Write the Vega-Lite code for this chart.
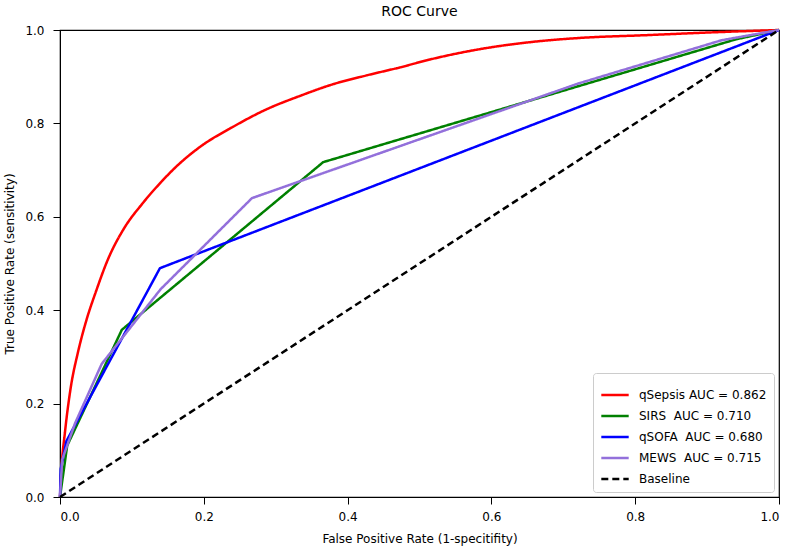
{
  "$schema": "https://vega.github.io/schema/vega-lite/v6.json",
  "width": 719,
  "height": 467,
  "autosize": {"type": "none"},
  "padding": {"left": 60, "top": 30, "right": 17, "bottom": 51},
  "background": "white",
  "title": {"text": "ROC Curve", "font": "DejaVu Sans", "fontSize": 14, "fontWeight": "normal", "color": "black", "offset": 5},
  "config": {
    "view": {"stroke": "black", "strokeWidth": 1.2},
    "font": "DejaVu Sans",
    "axis": {"grid": false, "domainColor": "black", "tickColor": "black", "labelColor": "black", "titleColor": "black", "labelFont": "DejaVu Sans", "titleFont": "DejaVu Sans", "labelFontSize": 12, "titleFontSize": 12, "titleFontWeight": "normal", "tickSize": 7, "labelPadding": 7}
  },
  "data": {"values": [
    {"model": "qSepsis AUC = 0.862", "fpr": 0.0, "tpr": 0.0},
    {"model": "qSepsis AUC = 0.862", "fpr": 0.002, "tpr": 0.06},
    {"model": "qSepsis AUC = 0.862", "fpr": 0.007, "tpr": 0.14},
    {"model": "qSepsis AUC = 0.862", "fpr": 0.015, "tpr": 0.235},
    {"model": "qSepsis AUC = 0.862", "fpr": 0.025, "tpr": 0.31},
    {"model": "qSepsis AUC = 0.862", "fpr": 0.037, "tpr": 0.38},
    {"model": "qSepsis AUC = 0.862", "fpr": 0.05, "tpr": 0.44},
    {"model": "qSepsis AUC = 0.862", "fpr": 0.067, "tpr": 0.51},
    {"model": "qSepsis AUC = 0.862", "fpr": 0.089, "tpr": 0.575},
    {"model": "qSepsis AUC = 0.862", "fpr": 0.115, "tpr": 0.629},
    {"model": "qSepsis AUC = 0.862", "fpr": 0.141, "tpr": 0.675},
    {"model": "qSepsis AUC = 0.862", "fpr": 0.16, "tpr": 0.705},
    {"model": "qSepsis AUC = 0.862", "fpr": 0.195, "tpr": 0.75},
    {"model": "qSepsis AUC = 0.862", "fpr": 0.241, "tpr": 0.793},
    {"model": "qSepsis AUC = 0.862", "fpr": 0.287, "tpr": 0.83},
    {"model": "qSepsis AUC = 0.862", "fpr": 0.334, "tpr": 0.859},
    {"model": "qSepsis AUC = 0.862", "fpr": 0.38, "tpr": 0.884},
    {"model": "qSepsis AUC = 0.862", "fpr": 0.427, "tpr": 0.903},
    {"model": "qSepsis AUC = 0.862", "fpr": 0.473, "tpr": 0.92},
    {"model": "qSepsis AUC = 0.862", "fpr": 0.515, "tpr": 0.937},
    {"model": "qSepsis AUC = 0.862", "fpr": 0.584, "tpr": 0.959},
    {"model": "qSepsis AUC = 0.862", "fpr": 0.654, "tpr": 0.974},
    {"model": "qSepsis AUC = 0.862", "fpr": 0.723, "tpr": 0.983},
    {"model": "qSepsis AUC = 0.862", "fpr": 0.816, "tpr": 0.989},
    {"model": "qSepsis AUC = 0.862", "fpr": 0.908, "tpr": 0.995},
    {"model": "qSepsis AUC = 0.862", "fpr": 1.0, "tpr": 1.0},
    {"model": "SIRS\u00a0 AUC = 0.710", "fpr": 0.0, "tpr": 0.0},
    {"model": "SIRS\u00a0 AUC = 0.710", "fpr": 0.01, "tpr": 0.11},
    {"model": "SIRS\u00a0 AUC = 0.710", "fpr": 0.086, "tpr": 0.358},
    {"model": "SIRS\u00a0 AUC = 0.710", "fpr": 0.366, "tpr": 0.717},
    {"model": "SIRS\u00a0 AUC = 0.710", "fpr": 0.94, "tpr": 0.98},
    {"model": "SIRS\u00a0 AUC = 0.710", "fpr": 1.0, "tpr": 1.0},
    {"model": "qSOFA\u00a0 AUC = 0.680", "fpr": 0.0, "tpr": 0.0},
    {"model": "qSOFA\u00a0 AUC = 0.680", "fpr": 0.001, "tpr": 0.06},
    {"model": "qSOFA\u00a0 AUC = 0.680", "fpr": 0.009, "tpr": 0.12},
    {"model": "qSOFA\u00a0 AUC = 0.680", "fpr": 0.139, "tpr": 0.49},
    {"model": "qSOFA\u00a0 AUC = 0.680", "fpr": 1.0, "tpr": 1.0},
    {"model": "MEWS\u00a0 AUC = 0.715", "fpr": 0.0, "tpr": 0.0},
    {"model": "MEWS\u00a0 AUC = 0.715", "fpr": 0.003, "tpr": 0.08},
    {"model": "MEWS\u00a0 AUC = 0.715", "fpr": 0.021, "tpr": 0.158},
    {"model": "MEWS\u00a0 AUC = 0.715", "fpr": 0.058, "tpr": 0.285},
    {"model": "MEWS\u00a0 AUC = 0.715", "fpr": 0.14, "tpr": 0.445},
    {"model": "MEWS\u00a0 AUC = 0.715", "fpr": 0.267, "tpr": 0.64},
    {"model": "MEWS\u00a0 AUC = 0.715", "fpr": 0.72, "tpr": 0.885},
    {"model": "MEWS\u00a0 AUC = 0.715", "fpr": 0.92, "tpr": 0.978},
    {"model": "MEWS\u00a0 AUC = 0.715", "fpr": 1.0, "tpr": 1.0},
    {"model": "Baseline", "fpr": 0.0, "tpr": 0.0},
    {"model": "Baseline", "fpr": 1.0, "tpr": 1.0}
  ]},
  "encoding": {
    "x": {"field": "fpr", "type": "quantitative", "scale": {"domain": [0, 1], "nice": false, "zero": false}, "axis": {"title": "False Positive Rate (1-specitifity)", "values": [0, 0.2, 0.4, 0.6, 0.8, 1.0], "format": ".1f", "titlePadding": 11}},
    "y": {"field": "tpr", "type": "quantitative", "scale": {"domain": [0, 1], "nice": false, "zero": false}, "axis": {"title": "True Positive Rate (sensitivity)", "values": [0, 0.2, 0.4, 0.6, 0.8, 1.0], "format": ".1f", "labelPadding": 9, "titlePadding": 8}},
    "order": {"field": "fpr", "type": "quantitative"},
    "color": {"field": "model", "type": "nominal",
      "scale": {"domain": ["qSepsis AUC = 0.862", "SIRS\u00a0 AUC = 0.710", "qSOFA\u00a0 AUC = 0.680", "MEWS\u00a0 AUC = 0.715", "Baseline"], "range": ["#ff0000", "#008000", "#0000ff", "#9370db", "#000000"]},
      "legend": {"title": null, "orient": "bottom-right", "offset": 5, "symbolType": "stroke", "symbolStrokeWidth": 2.5, "symbolSize": 750, "labelFontSize": 12, "labelFont": "DejaVu Sans", "labelColor": "black", "labelOffset": 9, "rowPadding": -6, "padding": 7, "strokeColor": "#cccccc", "fillColor": "white", "cornerRadius": 3}},
    "strokeDash": {"field": "model", "type": "nominal",
      "scale": {"domain": ["qSepsis AUC = 0.862", "SIRS\u00a0 AUC = 0.710", "qSOFA\u00a0 AUC = 0.680", "MEWS\u00a0 AUC = 0.715", "Baseline"], "range": [[1, 0], [1, 0], [1, 0], [1, 0], [7, 4]]},
      "legend": {"title": null, "orient": "bottom-right", "offset": 5, "symbolType": "stroke", "symbolStrokeWidth": 2.5, "symbolSize": 750, "labelFontSize": 12, "labelFont": "DejaVu Sans", "labelColor": "black", "labelOffset": 9, "rowPadding": -6, "padding": 7, "strokeColor": "#cccccc", "fillColor": "white", "cornerRadius": 3}}
  },
  "layer": [
    {"transform": [{"filter": "datum.model === 'qSepsis AUC = 0.862'"}], "mark": {"type": "line", "strokeWidth": 2.5, "interpolate": "monotone"}},
    {"transform": [{"filter": "datum.model !== 'qSepsis AUC = 0.862'"}], "mark": {"type": "line", "strokeWidth": 2.5}}
  ]
}
